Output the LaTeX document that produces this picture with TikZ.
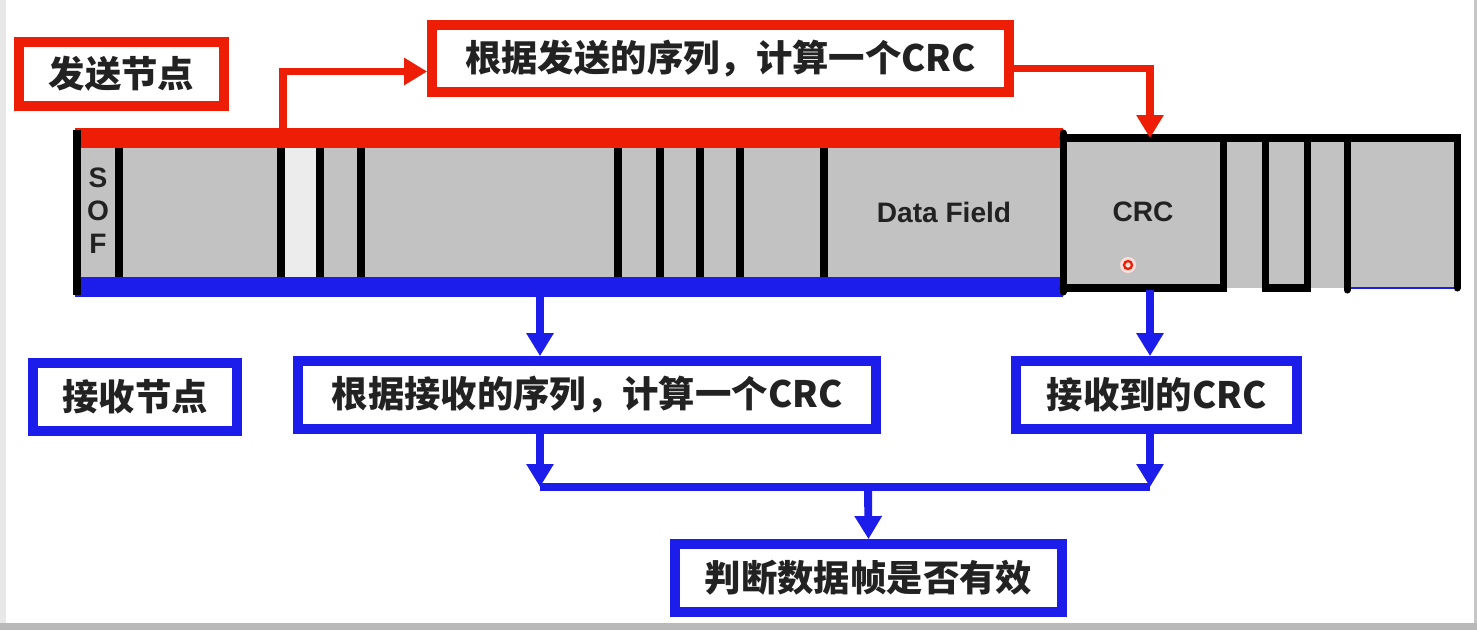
\documentclass[tikz,border=0pt]{standalone}
\usepackage{fontspec}
\setsansfont{Liberation Sans}
\newfontfamily\cjk{Noto Sans CJK SC}
\usepackage{xcolor}
\definecolor{sendred}{HTML}{EE1D05}
\definecolor{recvblue}{HTML}{1C1CEB}
\definecolor{fieldgray}{HTML}{C2C2C2}
\definecolor{fieldlight}{HTML}{ECECEC}
\definecolor{inkdark}{HTML}{222222}
\usetikzlibrary{arrows.meta, positioning, calc}

\begin{document}
\begin{tikzpicture}[x=0.02cm, y=-0.02cm,
    >={Triangle[length=0.46cm, width=0.52cm]},
    labelbox/.style={line width=5.6pt, fill=white, inner sep=0pt,
      font=\cjk\bfseries\fontsize{20.7pt}{24pt}\selectfont, text=inkdark},
    sendbox/.style={labelbox, draw=sendred},
    recvbox/.style={labelbox, draw=recvblue},
    sendarrow/.style={->, sendred, line width=4.5pt},
    recvarrow/.style={->, recvblue, line width=4.5pt},
    recvline/.style={recvblue, line width=4.5pt},
    fieldline/.style={black, line width=5pt},
    crcline/.style={black, line width=4pt, line cap=round},
    fieldtext/.style={font=\sffamily\bfseries\fontsize{16pt}{18.7pt}\selectfont,
      text=inkdark, inner sep=0pt, align=center}]

  \useasboundingbox (0,0) rectangle (1477,630);
  \fill[white] (0,0) rectangle (1477,630);
  \fill[gray!18] (0,0) rectangle (6,623);
  \fill[gray!55] (0,623) rectangle (1477,630);
  \fill[gray!45] (1474,0) rectangle (1477,623);

  % frame: fields up to the data field
  \fill[fieldgray] (77,148) rectangle (1063,277);
  \fill[fieldlight] (283,148) rectangle (320,277);
  \fill[sendred] (75,128) rectangle (1063,148);
  \fill[recvblue] (75,277) rectangle (1063,297);
  \draw[fieldline] (77,130) -- (77,295);
  \foreach \x in {119,281,320,361,618,660,700,740,824}
    \draw[fieldline] (\x,148) -- (\x,277);

  % frame: CRC and the rest
  \fill[fieldgray] (1063,138) rectangle (1457,288);
  \draw[recvblue, line width=1pt] (1347,288) -- (1457,288);
  \draw[crcline] (1063,133) -- (1063,292);
  \draw[crcline] (1063,138) -- (1457,138) -- (1457,288);
  \draw[crcline] (1063,288) -- (1223,288) -- (1223,138);
  \draw[crcline] (1265,138) -- (1265,288) -- (1307,288) -- (1307,138);
  \draw[crcline] (1347,138) -- (1347,290);

  \node[fieldtext] (sof) at (98,211) {S\\O\\F};
  \node[fieldtext] (datafield) at (944,212) {Data Field};
  \node[fieldtext] (crcfield) at (1143,212) {CRC};
  \fill[sendred!15] (1128,265) circle (0.16cm);
  \draw[sendred, line width=1.3pt] (1128,265) circle (0.08cm);

  % sending side
  \node[sendbox, minimum width=4.1cm, minimum height=1.28cm] (sender)
    at (121.5,74) {发送节点};
  \node[sendbox, minimum width=11.54cm, minimum height=1.34cm] (sendcrc)
    at (720.5,58.5) {根据发送的序列，计算一个CRC};

  % receiving side
  \node[recvbox, minimum width=4.08cm, minimum height=1.36cm] (receiver)
    at (135,397) {接收节点};
  \node[recvbox, minimum width=11.56cm, minimum height=1.36cm] (recvcrc)
    at (587,395) {根据接收的序列，计算一个CRC};
  \node[recvbox, minimum width=5.62cm, minimum height=1.36cm] (gotcrc)
    at (1156.5,395) {接收到的CRC};
  \node[recvbox, minimum width=7.74cm, minimum height=1.36cm] (judge)
    at (868.5,578) {判断数据帧是否有效};

  \coordinate (sendtap) at (283,128);
  \coordinate (crctop) at (1150,138);
  \coordinate (recvtap) at (540,297);
  \coordinate (crcbot) at (1150,290);
  \coordinate (joint) at (868,487);

  \draw[sendarrow] (sendtap) |- ($(sendcrc.west)+(0,13)$);
  \draw[sendarrow] ($(sendcrc.east)+(0,10)$) -| (crctop);

  \draw[recvarrow] (recvtap) -- (recvtap |- recvcrc.north);
  \draw[recvarrow] (crcbot) -- (crcbot |- gotcrc.north);
  \draw[recvarrow] (recvtap |- recvcrc.south) -- (recvtap |- joint);
  \draw[recvarrow] (crcbot |- gotcrc.south) -- (crcbot |- joint);
  \draw[recvline] (recvtap |- joint) -- (crcbot |- joint);
  \draw[recvarrow] (joint) -- (judge.north);

\end{tikzpicture}
\end{document}
